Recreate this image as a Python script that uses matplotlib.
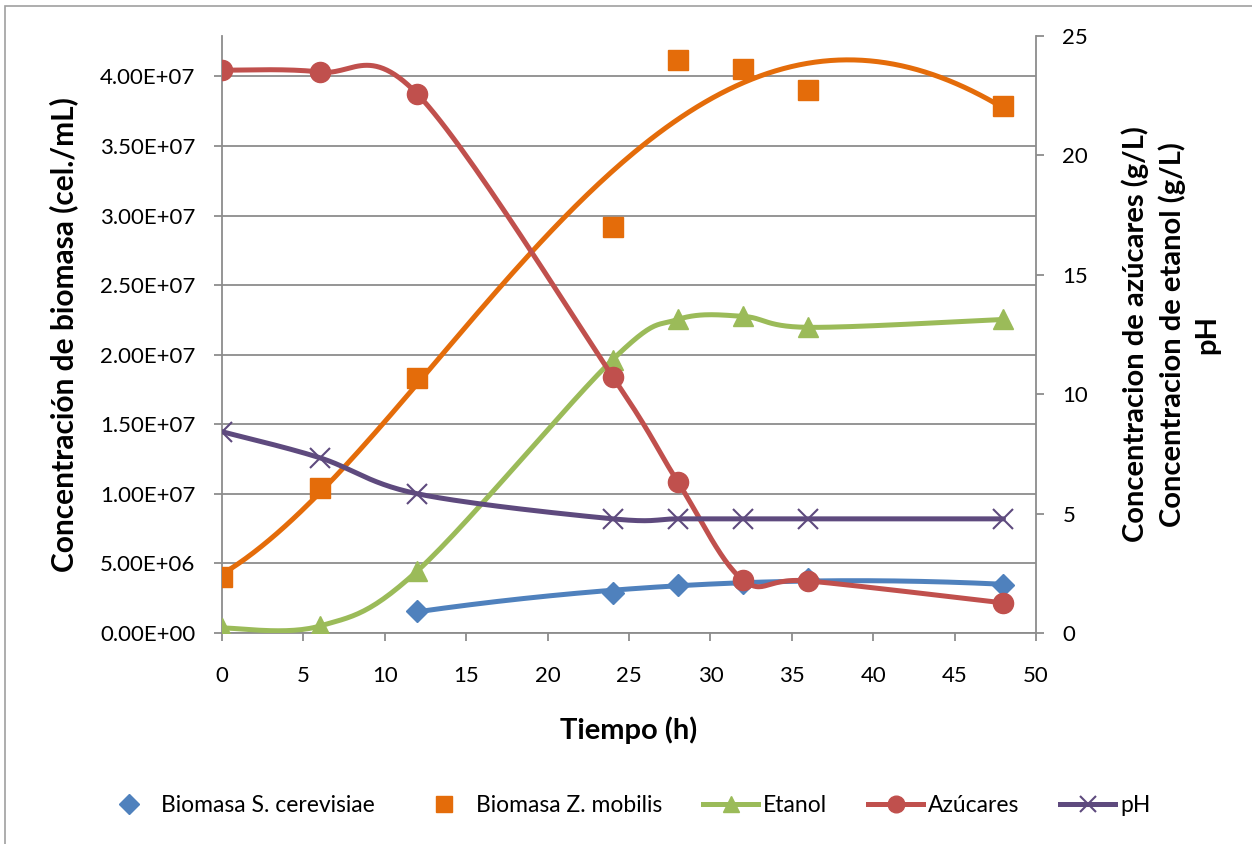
import numpy as np
import matplotlib.pyplot as plt
from matplotlib.patches import Rectangle
from matplotlib.lines import Line2D

plt.rcParams['font.family'] = ['Lato', 'DejaVu Sans']

# tiempos de muestreo (h)
t_all = [0, 6, 12, 24, 28, 32, 36, 48]
t_cerev = [12, 24, 28, 32, 36, 48]

# biomasa (cel./mL)
biomasa_cerev = [1.58e6, 2.88e6, 3.45e6, 3.60e6, 3.88e6, 3.45e6]
biomasa_zmob = [4.03e6, 1.04e7, 1.83e7, 2.92e7, 4.12e7, 4.05e7, 3.90e7, 3.79e7]

# eje secundario: g/L y pH
etanol = [0.21, 0.29, 2.60, 11.45, 13.13, 13.26, 12.80, 13.13]
azucares = [23.57, 23.49, 22.57, 10.74, 6.33, 2.22, 2.18, 1.26]
ph = [8.43, 7.34, 5.83, 4.78, 4.78, 4.78, 4.78, 4.78]

C_BLUE = '#4F81BD'
C_ORANGE = '#E46C0A'
C_GREEN = '#9BBB59'
C_RED = '#C0504D'
C_PURPLE = '#5E4A7E'
C_GRID = '#8C8C8C'


def smooth(x, y, n=30):
    """Curva suavizada tipo Catmull-Rom (como la línea suavizada de Excel)"""
    x = np.asarray(x, float)
    y = np.asarray(y, float)
    px = np.concatenate([[x[0]], x, [x[-1]]])
    py = np.concatenate([[y[0]], y, [y[-1]]])
    xs, ys = [], []
    s = np.linspace(0, 1, n)
    for i in range(1, len(px) - 2):
        p0 = np.array([px[i], py[i]])
        p3 = np.array([px[i + 1], py[i + 1]])
        c1 = p0 + (np.array([px[i + 1], py[i + 1]]) - np.array([px[i - 1], py[i - 1]])) / 6
        c2 = p3 - (np.array([px[i + 2], py[i + 2]]) - np.array([px[i], py[i]])) / 6
        b = (np.outer((1 - s) ** 3, p0) + np.outer(3 * (1 - s) ** 2 * s, c1)
             + np.outer(3 * (1 - s) * s ** 2, c2) + np.outer(s ** 3, p3))
        xs.extend(b[:, 0])
        ys.extend(b[:, 1])
    return np.array(xs), np.array(ys)


fig = plt.figure(figsize=(12.52, 8.44), dpi=100)
fig.patches.append(Rectangle((5 / 1252, -0.02), 1.1, 1 - 6 / 844 + 0.02,
                             transform=fig.transFigure, fill=False,
                             edgecolor='#A0A0A0', lw=1.2))

ax = fig.add_axes([222 / 1252, 1 - 633 / 844, (1036 - 222) / 1252, (633 - 36) / 844])
ax2 = ax.twinx()

# eje primario: biomasa con líneas de tendencia polinómicas
tt = np.linspace(0, 48, 200)
fit_z = np.polyfit(t_all, biomasa_zmob, 4)
ax.plot(tt, np.polyval(fit_z, tt), color=C_ORANGE, lw=3.6, zorder=2)
tc = np.linspace(12, 48, 200)
fit_c = np.polyfit(t_cerev, biomasa_cerev, 2)
ax.plot(tc, np.polyval(fit_c, tc), color=C_BLUE, lw=3.6, zorder=2)
ax.plot(t_cerev, biomasa_cerev, ls='none', marker='D', ms=11, color=C_BLUE, zorder=3)
ax.plot(t_all, biomasa_zmob, ls='none', marker='s', ms=14, color=C_ORANGE, zorder=3)

# eje secundario
for y, col, mk, ms in [(etanol, C_GREEN, '^', 15), (azucares, C_RED, 'o', 14.5),
                       (ph, C_PURPLE, 'x', 14)]:
    xs, ys = smooth(t_all, y)
    ax2.plot(xs, ys, color=col, lw=3.6, solid_capstyle='round')
    ax2.plot(t_all, y, ls='none', marker=mk, ms=ms, color=col,
             mew=1.5 if mk == 'x' else 1)

ax.set_xlim(0, 50)
ax.set_ylim(0, 4.29e7)
ax2.set_ylim(0, 25)
ax.set_xticks(np.arange(0, 51, 5))
ax.set_yticks(np.arange(0, 4.01e7, 5e6))
ax.set_yticklabels(['%.2E' % v for v in np.arange(0, 4.01e7, 5e6)])
ax2.set_yticks(np.arange(0, 26, 5))

ax.grid(axis='y', color=C_GRID, lw=1.3)
ax.set_axisbelow(True)
for a in (ax, ax2):
    for sp in a.spines.values():
        sp.set_visible(False)
    a.tick_params(labelsize=16, colors=C_GRID, labelcolor='black', length=6, width=1.3, pad=13)
ax.spines['left'].set_visible(True)
ax.spines['bottom'].set_visible(True)
ax2.spines['right'].set_visible(True)
for sp in (ax.spines['left'], ax.spines['bottom'], ax2.spines['right']):
    sp.set_color(C_GRID)
    sp.set_linewidth(1.3)
ax.tick_params(axis='x', pad=18)

ax.set_xlabel('Tiempo (h)', fontsize=21, fontweight='bold', labelpad=22)
ax.set_ylabel('Concentración de biomasa (cel./mL)', fontsize=21.5, fontweight='bold', labelpad=16)
ax2.set_ylabel('Concentracion de azúcares (g/L)\nConcentracion de etanol (g/L)\npH',
               fontsize=21, fontweight='bold', labelpad=24, linespacing=1.4)

handles = [
    Line2D([], [], ls='none', marker='D', ms=10, color=C_BLUE),
    Line2D([], [], ls='none', marker='s', ms=11, color=C_ORANGE),
    Line2D([], [], lw=3.6, marker='^', ms=12, color=C_GREEN),
    Line2D([], [], lw=3.6, marker='o', ms=12, color=C_RED),
    Line2D([], [], lw=3.6, marker='x', ms=12, mew=1.5, color=C_PURPLE),
]
labels = ['Biomasa S. cerevisiae', 'Biomasa Z. mobilis', 'Etanol', 'Azúcares', 'pH']
fig.legend(handles, labels, loc='center', bbox_to_anchor=(0.5, 1 - 806 / 844), ncol=5,
           frameon=False, fontsize=16.5, handlelength=2.4, handletextpad=0.2, columnspacing=1.8)

fig.savefig('out.png', dpi=100)
